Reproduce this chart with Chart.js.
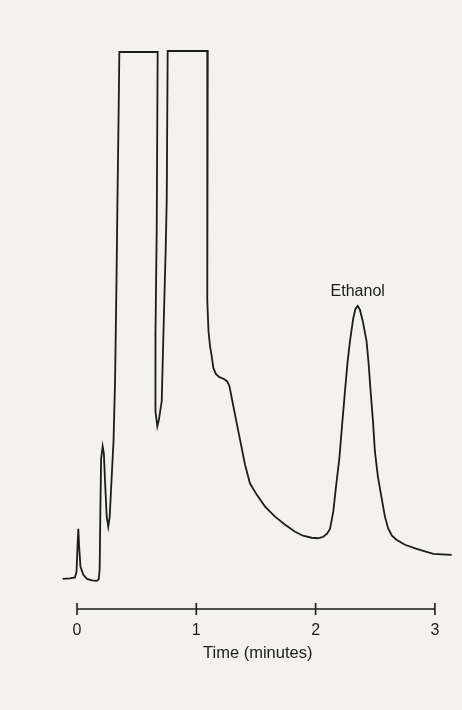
<!DOCTYPE html>
<html>
<head>
<meta charset="utf-8">
<script src="https://cdn.jsdelivr.net/npm/chart.js@4.4.0/dist/chart.umd.min.js"></script>
<style>
html, body { margin: 0; padding: 0; background: #f3f2ef; }
#wrap { width: 462px; height: 710px; }
</style>
</head>
<body>
<div id="wrap"><canvas id="Chart1" width="462" height="710"></canvas></div>
<script>
// retention time (minutes) and detector signal
var times = [-0.120, -0.059, -0.017, -0.004, 0.004, 0.011, 0.018, 0.029, 0.053, 0.084,
    0.126, 0.168, 0.182, 0.190, 0.196, 0.202, 0.215, 0.225, 0.235, 0.249,
    0.262, 0.274, 0.293, 0.306, 0.319, 0.331, 0.339, 0.348, 0.355, 0.676,
    0.668, 0.658, 0.654, 0.661, 0.673, 0.687, 0.710, 0.725, 0.743, 0.752, 0.760,
    1.096, 1.092, 1.102, 1.115, 1.129, 1.143, 1.165, 1.194, 1.228, 1.257,
    1.278, 1.299, 1.324, 1.366, 1.408, 1.450, 1.506, 1.576, 1.660, 1.744,
    1.828, 1.894, 1.967, 2.020, 2.065, 2.096, 2.121, 2.148, 2.171, 2.199,
    2.221, 2.246, 2.267, 2.288, 2.316, 2.334, 2.353, 2.372, 2.395, 2.427,
    2.444, 2.461, 2.481, 2.497, 2.522, 2.554, 2.581, 2.609, 2.640, 2.677,
    2.749, 2.847, 2.917, 2.987, 3.059, 3.141];
var signal = [30, 30.5, 31.5, 37, 62, 80, 62, 42, 34, 30,
    28.5, 28, 29.5, 40, 100, 150, 162, 155, 127, 92,
    82, 92, 137, 167, 227, 327, 407, 487, 555, 555,
    377, 277, 227, 197, 182, 189, 207, 277, 357, 407, 556,
    556, 307, 277, 262, 252, 240, 234, 231, 229.5, 227,
    222, 209, 194, 169, 144, 125, 114, 102, 92, 84,
    77, 73, 71, 70.5, 72, 75, 80, 97, 122, 150,
    182, 217, 245, 267, 290, 299, 302, 298, 287, 267,
    245, 217, 187, 157, 132, 110, 92, 80, 73, 69,
    64, 60, 57.5, 55, 54.5, 54];
var tickValues = [0, 1, 2, 3];
var peakName = "Ethanol";
var xTitle = "Time (minutes)";

var ink = '#1c1c1c';
var points = [];
for (var i = 0; i < times.length; i++) {
    points.push({x: times[i], y: signal[i]});
}

// draws the time axis line, its ticks and the peak name
var axisPlugin = {
    id: 'axisPlugin',
    afterDraw: function (chart) {
        var ctx = chart.ctx;
        var xs = chart.scales.x;
        var ys = chart.scales.y;
        var y0 = chart.chartArea.bottom;
        ctx.save();
        ctx.strokeStyle = ink;
        ctx.lineWidth = 1.6;
        ctx.beginPath();
        ctx.moveTo(xs.getPixelForValue(tickValues[0]), y0);
        ctx.lineTo(xs.getPixelForValue(tickValues[tickValues.length - 1]), y0);
        for (var k = 0; k < tickValues.length; k++) {
            var px = xs.getPixelForValue(tickValues[k]);
            ctx.moveTo(px, y0 - 6);
            ctx.lineTo(px, y0 + 6);
        }
        ctx.stroke();

        // label sits over the highest point after 2 minutes
        var best = -1;
        for (var j = 0; j < times.length; j++) {
            if (times[j] > 2 && (best < 0 || signal[j] > signal[best])) best = j;
        }
        ctx.fillStyle = ink;
        ctx.font = '16px "Liberation Sans", Arial, sans-serif';
        ctx.textAlign = 'center';
        ctx.textBaseline = 'alphabetic';
        ctx.fillText(peakName, xs.getPixelForValue(times[best]), ys.getPixelForValue(signal[best]) - 10);
        ctx.restore();
    }
};

var chart = new Chart(document.getElementById('Chart1').getContext('2d'), {
    // The type of chart we want to create
    type: 'line',

    // The data for our dataset
    data: {
        datasets: [{
            label: 'Signal',
            data: points,
            borderColor: ink,
            borderWidth: 1.8,
            pointRadius: 0,
            tension: 0,
            fill: false
        }]
    },

    // Configuration options go here
    options: {
        responsive: false,
        animation: false,
        clip: false,
        layout: { padding: { left: 61.5, right: 8, top: 47, bottom: 41 } },
        plugins: { legend: { display: false }, tooltip: { enabled: false } },
        scales: {
            x: {
                type: 'linear',
                min: -0.13,
                max: 3.16,
                border: { display: false },
                grid: { display: false, drawTicks: false },
                afterBuildTicks: function (scale) {
                    scale.ticks = tickValues.map(function (v) { return {value: v}; });
                },
                ticks: {
                    color: ink,
                    padding: 12,
                    maxRotation: 0,
                    font: { family: '"Liberation Sans", Arial, sans-serif', size: 16 },
                    callback: function (v) { return String(v); }
                },
                title: {
                    display: true,
                    text: xTitle,
                    color: ink,
                    padding: { top: -9, bottom: 6 },
                    font: { family: '"Liberation Sans", Arial, sans-serif', size: 16.5 }
                }
            },
            y: {
                display: false,
                min: 0,
                max: 560
            }
        }
    },
    plugins: [axisPlugin]
});
</script>
</body>
</html>
